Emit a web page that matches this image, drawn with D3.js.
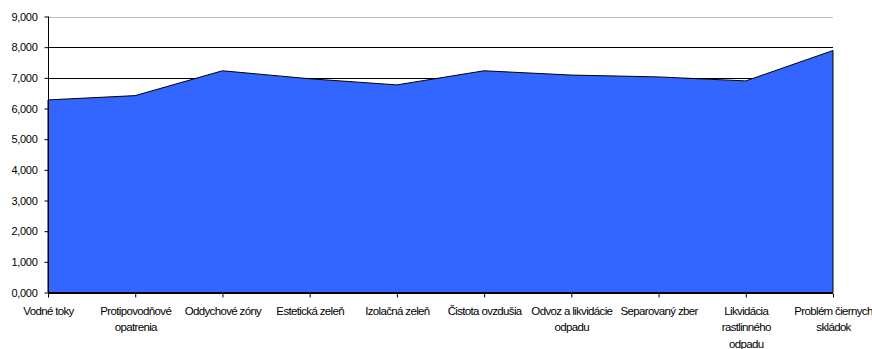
<!DOCTYPE html>
<html><head><meta charset="utf-8">
<script src="https://cdn.jsdelivr.net/npm/d3@7"></script>
<style>body{margin:0;background:#fff}svg{display:block}text{font-family:"Liberation Sans",Arial,sans-serif;fill:#000}</style>
</head><body><svg id="c" width="872" height="349"></svg>
<script>
const categories = ["Vodné toky","Protipovodňové\nopatrenia","Oddychové zóny","Estetická zeleň","Izolačná zeleň","Čistota ovzdušia","Odvoz a likvidácie\nodpadu","Separovaný zber","Likvidácia\nrastlinného\nodpadu","Problém čiernych\nskládok"];
const values = [6280, 6420, 7230, 6970, 6770, 7230, 7090, 7030, 6900, 7890];
const yTicks = [0,1000,2000,3000,4000,5000,6000,7000,8000,9000];

const svg = d3.select("#c");
const m = {l:48, r:833, t:16.5, b:292.5};
const x = d3.scalePoint().domain(categories).range([m.l, m.r]);
const y = d3.scaleLinear().domain([0,9000]).range([m.b, m.t]);
const lbl = d => (d/1000).toFixed(0) + ",000";

// gridlines
svg.append("g").selectAll("line").data(yTicks.filter(d=>d>0)).join("line")
  .attr("x1", m.l).attr("x2", m.r).attr("y1", d=>Math.round(y(d))+0.5).attr("y2", d=>Math.round(y(d))+0.5)
  .attr("stroke", d => d===9000 ? "#c0c0c0" : "#000").attr("stroke-width", 1);

// area
const area = d3.area().x((d,i)=>x(categories[i])).y0(y(0)).y1(d=>y(d));
svg.append("path").datum(values).attr("d", area).attr("fill", "#3366ff").attr("stroke", "#000").attr("stroke-width", 1).attr("stroke-linejoin","miter");

// y axis
const ya = svg.append("g").attr("transform", `translate(${m.l+0.5},0)`)
  .call(d3.axisLeft(y).tickValues(yTicks).tickFormat(lbl).tickSize(4).tickPadding(7));
ya.select(".domain").attr("stroke", "#000").attr("d", `M0,${y(9000)}V${y(0)}`);
ya.selectAll(".tick line").attr("stroke", "#000");
ya.selectAll("text").style("font-size","11px").style("letter-spacing","-0.3px").attr("fill","#000");

// x axis
const xa = svg.append("g").attr("transform", `translate(0,${Math.round(m.b)+0.5})`)
  .call(d3.axisBottom(x).tickSize(4).tickFormat(""));
xa.select(".domain").attr("stroke", "#000").attr("d", `M${m.l},0H${m.r}`);
xa.selectAll(".tick line").attr("stroke", "#000");
xa.selectAll(".tick").each(function(d){
  const t = d3.select(this).append("text").attr("text-anchor","middle").attr("y", 21.5)
    .style("font-size","11.5px").style("letter-spacing","-0.65px");
  d.split("\n").forEach((s,i)=>t.append("tspan").attr("x",0).attr("dy", i===0?0:16.3).text(s));
});
</script></body></html>
